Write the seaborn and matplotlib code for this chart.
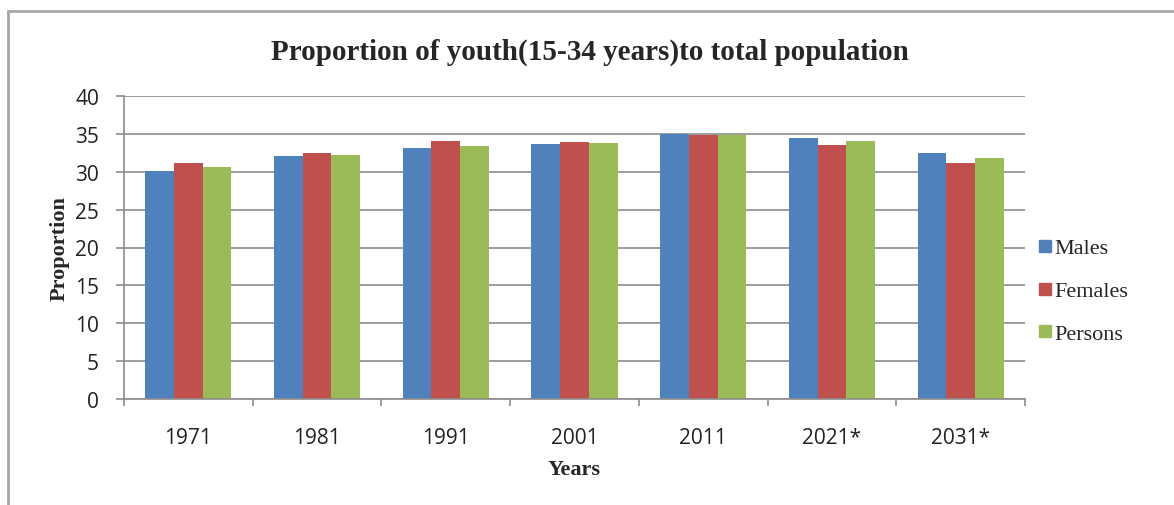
import pandas as pd
import matplotlib
matplotlib.use("Agg")
import matplotlib.pyplot as plt
import seaborn as sns
from matplotlib.lines import Line2D
from matplotlib.ticker import MultipleLocator, FixedLocator

# Values
years = ["1971", "1981", "1991", "2001", "2011", "2021*", "2031*"]
males = [30.1, 32.1, 33.1, 33.7, 35.0, 34.5, 32.5]
females = [31.1, 32.5, 34.0, 33.9, 34.9, 33.5, 31.1]
persons = [30.6, 32.2, 33.4, 33.8, 34.8, 34.1, 31.8]
series = ["Males", "Females", "Persons"]
colors = ["#4F81BD", "#C0504D", "#9BBB59"]

df = pd.DataFrame({"Year": years, "Males": males, "Females": females, "Persons": persons})
long_df = df.melt(id_vars="Year", var_name="Series", value_name="Proportion")

sns.set_style("white")
serif = ["Liberation Serif", "DejaVu Serif"]
sans = ["Open Sans", "DejaVu Sans"]

fig = plt.figure(figsize=(11.74, 5.06), dpi=100)
ax = fig.add_axes([124 / 1174, 1 - 400 / 506, (1025 - 124) / 1174, (400 - 97) / 506])

sns.barplot(data=long_df, x="Year", y="Proportion", hue="Series", hue_order=series,
            palette=colors, width=0.67, saturation=1, linewidth=0, ax=ax, legend=False)

ax.set_ylim(0, 40)
ax.set_xlim(-0.5, len(years) - 0.5)
ax.yaxis.set_major_locator(MultipleLocator(5))
ax.grid(axis="y", color="#8C8C8C", linewidth=1.2)
ax.set_axisbelow(True)

for side in ["top", "right"]:
    ax.spines[side].set_visible(False)
for side in ["left", "bottom"]:
    ax.spines[side].set_color("#8C8C8C")
    ax.spines[side].set_linewidth(1.2)

ax.tick_params(axis="y", direction="out", length=6, color="#8C8C8C", width=1.2,
               labelsize=15, labelcolor="#222222", pad=12, left=True)
ax.tick_params(axis="x", which="major", length=0, labelsize=15, labelcolor="#222222", pad=20)
ax.xaxis.set_minor_locator(FixedLocator([i - 0.5 for i in range(len(years) + 1)]))
ax.tick_params(axis="x", which="minor", direction="out", length=5, color="#8C8C8C", width=1.2, bottom=True)
for lab in ax.get_xticklabels() + ax.get_yticklabels():
    lab.set_family(sans)

ax.set_xlabel("Years", family=serif, fontsize=16, fontweight="bold", labelpad=8)
ax.set_ylabel("Proportion", family=serif, fontsize=16, fontweight="bold", labelpad=4)

fig.text(590 / 1174, 1 - 52 / 506, "Proportion of youth(15-34 years)to total population",
         family=serif, fontsize=21, fontweight="bold", ha="center", va="center")

handles = [Line2D([], [], marker="s", linestyle="", markersize=9, color=c) for c in colors]
fig.legend(handles, series, loc="center left", bbox_to_anchor=(1014 / 1174, 1 - 292 / 506),
           frameon=False, prop={"family": serif, "size": 16}, labelspacing=1.0,
           handletextpad=-0.1, handlelength=1.0)

# outer chart frame (top and left edges visible)
y_top = 1 - 12 / 506
x_left = 8 / 1174
fig.add_artist(Line2D([x_left, 1], [y_top, y_top], transform=fig.transFigure, color="#A6A6A6", lw=2))
fig.add_artist(Line2D([x_left, x_left], [0, y_top], transform=fig.transFigure, color="#A6A6A6", lw=2))

fig.savefig("out.png", dpi=100)
